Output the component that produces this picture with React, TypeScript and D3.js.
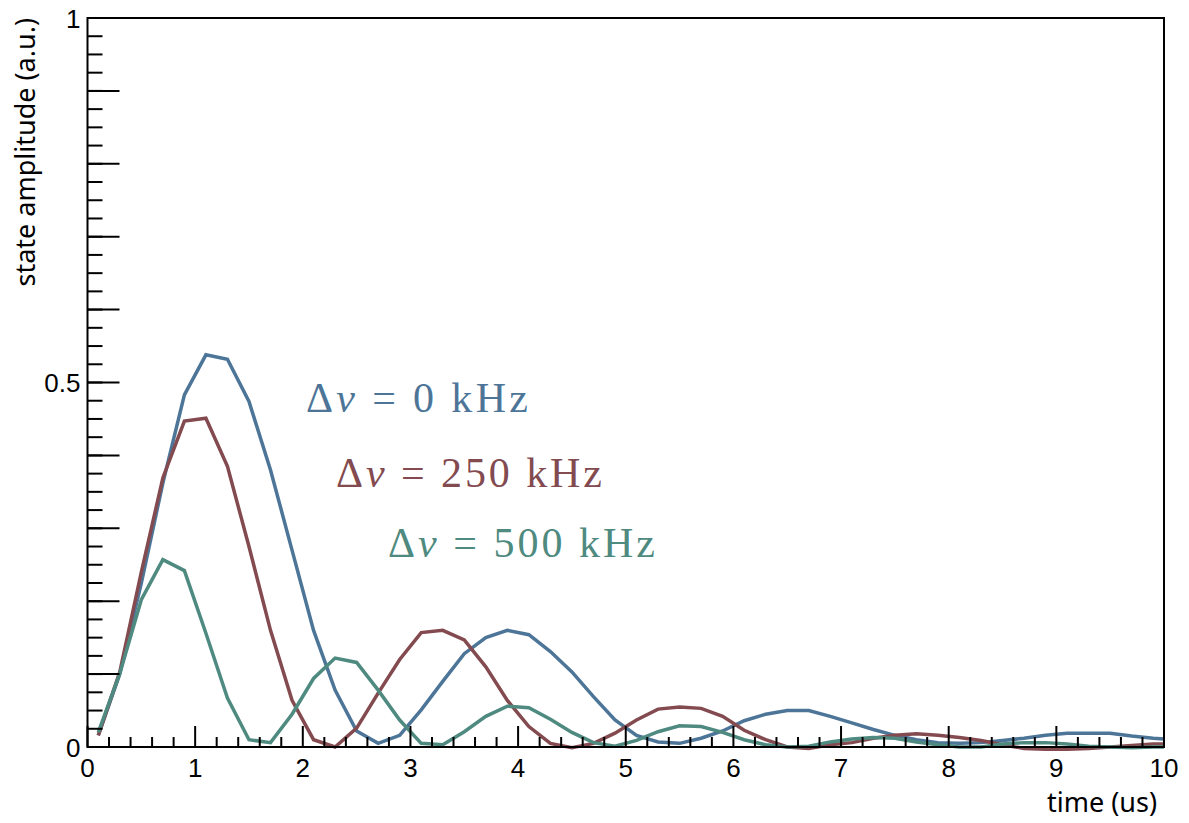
import React from "react";
import { scaleLinear, line, range } from "d3";

const width = 1189;
const height = 823;
const margin = { top: 18, right: 25, bottom: 76, left: 87.5 };
const innerWidth = width - margin.left - margin.right;
const innerHeight = height - margin.top - margin.bottom;

const times = [
  0.1, 0.3, 0.5, 0.7, 0.9, 1.1, 1.3, 1.5, 1.7, 1.9,
  2.1, 2.3, 2.5, 2.7, 2.9, 3.1, 3.3, 3.5, 3.7, 3.9,
  4.1, 4.3, 4.5, 4.7, 4.9, 5.1, 5.3, 5.5, 5.7, 5.9,
  6.1, 6.3, 6.5, 6.7, 6.9, 7.1, 7.3, 7.5, 7.7, 7.9,
  8.1, 8.3, 8.5, 8.7, 8.9, 9.1, 9.3, 9.5, 9.7, 9.9, 10.0,
];

const amp0 = [
  0.016, 0.1, 0.225, 0.362, 0.483, 0.538, 0.532, 0.474, 0.38, 0.27,
  0.16, 0.078, 0.022, 0.005, 0.016, 0.051, 0.09, 0.128, 0.15, 0.16,
  0.154, 0.131, 0.103, 0.069, 0.037, 0.016, 0.007, 0.005, 0.012, 0.022,
  0.036, 0.045, 0.05, 0.05, 0.042, 0.033, 0.024, 0.016, 0.01, 0.006,
  0.005, 0.006, 0.009, 0.012, 0.016, 0.019, 0.019, 0.019, 0.015, 0.012, 0.011,
];

const amp250 = [
  0.016, 0.103, 0.24, 0.369, 0.447, 0.451, 0.385, 0.275, 0.16, 0.064,
  0.01, 0.0, 0.026, 0.074, 0.12, 0.157, 0.16, 0.147, 0.11, 0.064,
  0.028, 0.005, -0.001, 0.005, 0.019, 0.037, 0.052, 0.055, 0.053, 0.042,
  0.023, 0.01, 0.0, -0.002, 0.003, 0.006, 0.012, 0.016, 0.018, 0.016,
  0.013, 0.009, 0.003, -0.002, -0.003, -0.003, -0.002, 0.0, 0.002, 0.004, 0.004,
];

const amp500 = [
  0.02, 0.101, 0.202, 0.257, 0.242, 0.156, 0.067, 0.01, 0.006, 0.045,
  0.094, 0.122, 0.116, 0.078, 0.037, 0.005, 0.003, 0.021, 0.042, 0.056,
  0.054, 0.038, 0.02, 0.006, 0.001, 0.009, 0.021, 0.029, 0.028, 0.02,
  0.01, 0.003, 0.0, 0.001, 0.007, 0.011, 0.013, 0.012, 0.007, 0.003,
  0.0, 0.0, 0.004, 0.006, 0.006, 0.004, 0.001, 0.0, -0.001, 0.0, 0.0,
];

const seriesLabels = ["0 kHz", "250 kHz", "500 kHz"];
const seriesColors = ["#4d7598", "#834a4f", "#4f8a80"];
const xTickLabels = ["0", "1", "2", "3", "4", "5", "6", "7", "8", "9", "10"];
const yTickLabels = ["0", "0.5", "1"];

const series = [amp0, amp250, amp500];
// where the latex labels sit (start x, baseline y, width)
const labelPos = [
  { x: 306, y: 412, w: 222 },
  { x: 336, y: 487, w: 266 },
  { x: 388, y: 557, w: 267 },
];

const App = () => {
  const xScale = scaleLinear().domain([0, 10]).range([0, innerWidth]);
  const yScale = scaleLinear().domain([0, 1]).range([innerHeight, 0]);

  const path = line<number>()
    .x((_, i) => xScale(times[i]))
    .y((d) => yScale(d));

  const xMinor = range(0, 10.001, 0.2);
  const yMinor = range(0, 1.0001, 0.025);
  const yMajor = range(0, 1.0001, 0.1);

  return (
    <svg
      width={width}
      height={height}
      style={{ position: "absolute", left: 0, top: 0, background: "white" }}
    >
      <g transform={`translate(${margin.left},${margin.top})`}>
        {series.map((s, i) => (
          <path
            key={i}
            d={path(s) || ""}
            fill="none"
            stroke={seriesColors[i]}
            strokeWidth={3.5}
            strokeLinejoin="miter"
          />
        ))}

        {/* frame */}
        <rect
          x={0}
          y={0}
          width={innerWidth}
          height={innerHeight}
          fill="none"
          stroke="black"
          strokeWidth={2}
        />

        {/* x ticks */}
        {xMinor.map((t, i) => (
          <line
            key={"xm" + i}
            x1={xScale(t)}
            x2={xScale(t)}
            y1={innerHeight}
            y2={innerHeight - (i % 5 === 0 ? 21 : 10)}
            stroke="black"
            strokeWidth={2}
          />
        ))}
        {xTickLabels.map((lbl, i) => (
          <text
            key={"xl" + i}
            x={xScale(+lbl)}
            y={innerHeight + 30}
            textAnchor="middle"
            fontFamily="Liberation Sans, Arial, sans-serif"
            fontSize={26}
          >
            {lbl}
          </text>
        ))}

        {/* y ticks */}
        {yMinor.map((t, i) => (
          <line
            key={"ym" + i}
            x1={0}
            x2={15}
            y1={yScale(t)}
            y2={yScale(t)}
            stroke="black"
            strokeWidth={2}
          />
        ))}
        {yMajor.map((t, i) => (
          <line
            key={"yM" + i}
            x1={0}
            x2={32}
            y1={yScale(t)}
            y2={yScale(t)}
            stroke="black"
            strokeWidth={2}
          />
        ))}
        {yTickLabels.map((lbl, i) => (
          <text
            key={"yl" + i}
            x={-7}
            y={yScale(+lbl) + 9.5}
            textAnchor="end"
            fontFamily="Liberation Sans, Arial, sans-serif"
            fontSize={26}
          >
            {lbl}
          </text>
        ))}
      </g>

      {/* axis titles */}
      <text
        x={1157}
        y={812}
        textAnchor="end"
        fontFamily="Noto Sans, Open Sans, sans-serif"
        fontSize={27}
      >
        time (us)
      </text>
      <text
        transform="translate(35,18) rotate(-90)"
        textAnchor="end"
        fontFamily="Noto Sans, Open Sans, sans-serif"
        fontSize={27}
      >
        state amplitude (a.u.)
      </text>

      {/* labels */}
      {seriesLabels.map((lbl, i) => (
        <text
          key={"lab" + i}
          x={labelPos[i].x}
          y={labelPos[i].y}
          fill={seriesColors[i]}
          fontFamily="Liberation Serif, Times New Roman, serif"
          fontSize={42}
          textLength={labelPos[i].w}
          lengthAdjust="spacing"
        >
          Δ<tspan fontStyle="italic">ν</tspan> = {lbl}
        </text>
      ))}
    </svg>
  );
};

export default App;
